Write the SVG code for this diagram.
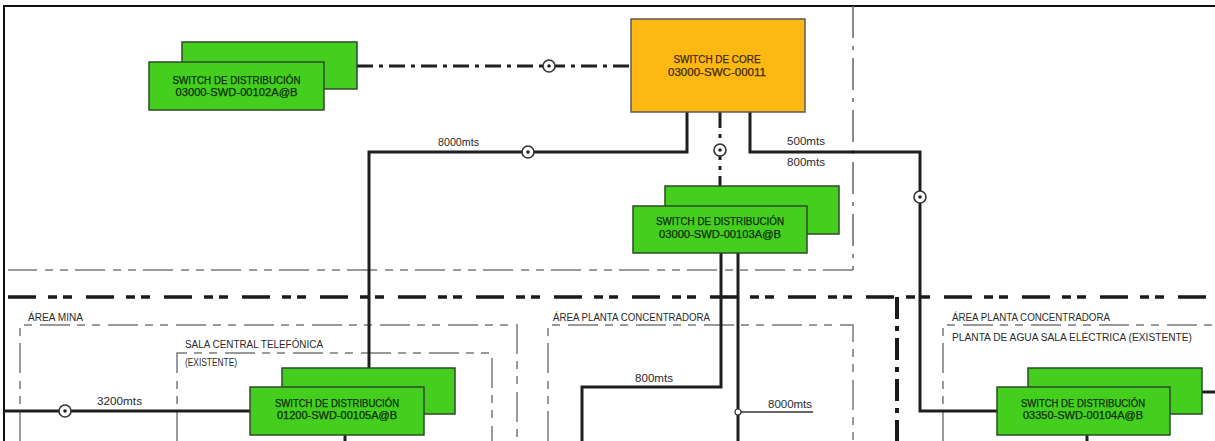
<svg xmlns="http://www.w3.org/2000/svg" width="1215" height="441" viewBox="0 0 1215 441">
<defs>
<style>
.sw{fill:#44cf1e;stroke:#2f4a28;stroke-width:1.5}
.core{fill:#fdb812;stroke:#5a5a5a;stroke-width:1.5}
.nt{font-family:"Liberation Sans",Arial,sans-serif;font-size:10px;fill:#0e2e06;text-anchor:middle;stroke:#0e2e06;stroke-width:0.25}
.ct{font-family:"Liberation Sans",Arial,sans-serif;font-size:10px;fill:#3f2b00;text-anchor:middle;stroke:#3f2b00;stroke-width:0.25}
.lb{font-family:"Liberation Sans",Arial,sans-serif;font-size:10px;fill:#2a2a2a}
.cable{fill:none;stroke:#1e1e1e;stroke-width:3}
.dd{fill:none;stroke:#1e1e1e;stroke-width:3;stroke-dasharray:16 6 4 6}
.zone{fill:none;stroke:#7a7a7a;stroke-width:1.5;stroke-dasharray:30 7 8 7 8 8}
.zone2{fill:none;stroke:#666;stroke-width:1.5;stroke-dasharray:32 8 4 8}
.thick{fill:none;stroke:#1a1a1a;stroke-width:3.5;stroke-dasharray:28 12 9 6 9 14}
.thickv{fill:none;stroke:#1a1a1a;stroke-width:4;stroke-dasharray:22 7 5 7}
</style>
<g id="splice">
<circle r="6" fill="#fff" stroke="#333" stroke-width="1.6"/>
<circle r="1.8" fill="#222"/>
</g>
</defs>
<rect width="1215" height="441" fill="#fff"/>
<g id="frame">
<path d="M4 441 V6 H1215" fill="none" stroke="#111" stroke-width="2"/>
<path class="zone2" d="M853 6 V270"/>
<path class="zone" d="M853 270 H8"/>
<path class="thick" d="M8 297 H1215"/>
<path class="thickv" d="M897 297 V441"/>
<path class="zone" d="M20 441 V325 H517 V441"/>
<path class="zone" d="M177 441 V353 H492 V441"/>
<path class="zone" d="M548 441 V325 H853 V441"/>
<path class="zone" d="M943 441 V325 H1215"/>
</g>
<g id="labels">
<text class="lb" x="28" y="321" textLength="55" lengthAdjust="spacingAndGlyphs">ÁREA MINA</text>
<text class="lb" x="185" y="348" textLength="138" lengthAdjust="spacingAndGlyphs">SALA CENTRAL TELEFÓNICA</text>
<text class="lb" x="185" y="366" textLength="52" lengthAdjust="spacingAndGlyphs">(EXISTENTE)</text>
<text class="lb" x="553" y="321" textLength="157" lengthAdjust="spacingAndGlyphs">ÁREA PLANTA CONCENTRADORA</text>
<text class="lb" x="952" y="321" textLength="158" lengthAdjust="spacingAndGlyphs">ÁREA PLANTA CONCENTRADORA</text>
<text class="lb" x="952" y="341" textLength="240" lengthAdjust="spacingAndGlyphs">PLANTA DE AGUA SALA ELÉCTRICA (EXISTENTE)</text>
</g>
<g id="connectors">
<path class="dd" d="M357 66 H631"/>
<path class="cable" d="M687 112 V152 H369 V368"/>
<path class="dd" d="M720 112 V186"/>
<path class="cable" d="M750 112 V152 H920 V411 H997"/>
<path class="cable" d="M721 253 V387 H582 V441"/>
<path class="cable" d="M738 253 V441"/>
<path d="M738 412 H813" fill="none" stroke="#333" stroke-width="1.5"/>
<circle cx="738" cy="412" r="3" fill="#fff" stroke="#333" stroke-width="1.2"/>
<path class="cable" d="M4 411 H250"/>
<path class="cable" d="M345 435 V441"/>
<path class="cable" d="M1202 392 H1215"/>
<path class="cable" d="M1087 435 V441"/>
<use href="#splice" x="549" y="66"/>
<use href="#splice" x="528" y="152"/>
<use href="#splice" x="720" y="150"/>
<use href="#splice" x="920" y="197"/>
<use href="#splice" x="65" y="411"/>
<text class="lb" x="438" y="146" textLength="41" lengthAdjust="spacingAndGlyphs">8000mts</text>
<text class="lb" x="787" y="145" textLength="38" lengthAdjust="spacingAndGlyphs">500mts</text>
<text class="lb" x="787" y="166" textLength="38" lengthAdjust="spacingAndGlyphs">800mts</text>
<text class="lb" x="635" y="382" textLength="38" lengthAdjust="spacingAndGlyphs">800mts</text>
<text class="lb" x="768" y="408" textLength="44" lengthAdjust="spacingAndGlyphs">8000mts</text>
<text class="lb" x="97" y="405" textLength="45" lengthAdjust="spacingAndGlyphs">3200mts</text>
</g>
<g id="sw-00102">
<rect class="sw" x="182" y="42" width="175" height="47"/>
<rect class="sw" x="149" y="62" width="175" height="48"/>
<text class="nt" x="236.5" y="84" textLength="128" lengthAdjust="spacingAndGlyphs">SWITCH DE DISTRIBUCIÓN</text>
<text class="nt" x="236.5" y="96" textLength="122" lengthAdjust="spacingAndGlyphs">03000-SWD-00102A@B</text>
</g>
<g id="core-00011">
<rect class="core" x="631" y="19" width="174" height="93"/>
<text class="ct" x="717" y="63" textLength="87" lengthAdjust="spacingAndGlyphs">SWITCH DE CORE</text>
<text class="ct" x="717" y="76" textLength="98" lengthAdjust="spacingAndGlyphs">03000-SWC-00011</text>
</g>
<g id="sw-00103">
<rect class="sw" x="665" y="186" width="174" height="48"/>
<rect class="sw" x="633" y="206" width="174" height="47"/>
<text class="nt" x="720" y="225" textLength="128" lengthAdjust="spacingAndGlyphs">SWITCH DE DISTRIBUCIÓN</text>
<text class="nt" x="720" y="238" textLength="122" lengthAdjust="spacingAndGlyphs">03000-SWD-00103A@B</text>
</g>
<g id="sw-00105">
<rect class="sw" x="282" y="368" width="173" height="46"/>
<rect class="sw" x="250" y="387" width="174" height="48"/>
<text class="nt" x="337" y="407" textLength="124" lengthAdjust="spacingAndGlyphs">SWITCH DE DISTRIBUCIÓN</text>
<text class="nt" x="337" y="419" textLength="120" lengthAdjust="spacingAndGlyphs">01200-SWD-00105A@B</text>
</g>
<g id="sw-00104">
<rect class="sw" x="1028" y="368" width="174" height="46"/>
<rect class="sw" x="997" y="387" width="173" height="48"/>
<text class="nt" x="1083" y="407" textLength="124" lengthAdjust="spacingAndGlyphs">SWITCH DE DISTRIBUCIÓN</text>
<text class="nt" x="1083" y="419" textLength="120" lengthAdjust="spacingAndGlyphs">03350-SWD-00104A@B</text>
</g>
</svg>
